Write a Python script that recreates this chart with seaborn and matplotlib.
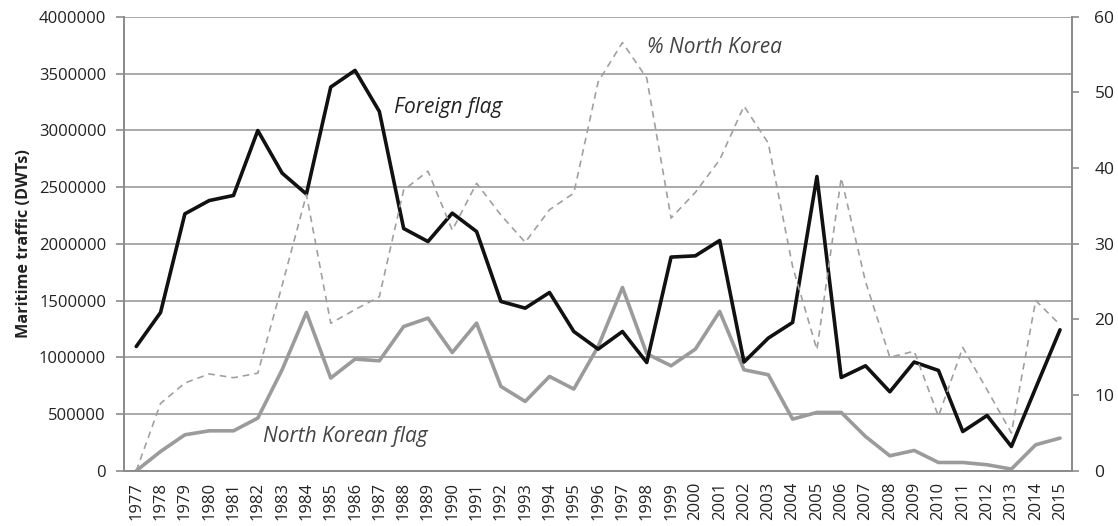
import matplotlib
matplotlib.use("Agg")
import matplotlib.pyplot as plt
import numpy as np
import pandas as pd
import seaborn as sns
from matplotlib.ticker import FixedLocator

# --- data ---
years = list(range(1977, 2016))
foreign_flag = [1095000, 1395000, 2264000, 2381000, 2426000, 2998000, 2623000, 2438000,
                3381000, 3528000, 3166000, 2135000, 2020000, 2270000, 2108000, 1492000,
                1433000, 1571000, 1227000, 1072000, 1227000, 954000, 1883000, 1894000,
                2029000, 958000, 1169000, 1307000, 2593000, 822000, 925000, 696000,
                958000, 884000, 346000, 487000, 214000, 730000, 1242000]
nk_flag = [0, 170000, 317000, 352000, 352000, 464000, 890000, 1395000,
           817000, 984000, 969000, 1271000, 1345000, 1042000, 1301000, 743000,
           611000, 831000, 720000, 1095000, 1615000, 1031000, 925000, 1072000,
           1404000, 890000, 846000, 455000, 514000, 514000, 302000, 132000,
           179000, 73000, 73000, 53000, 15000, 229000, 288000]
pct_nk = [0, 8.9, 11.6, 12.8, 12.3, 12.9, 24.5, 36.5,
          19.5, 21.3, 23.0, 37.1, 39.6, 31.8, 38.0, 33.8,
          30.2, 34.5, 36.7, 51.4, 56.6, 51.9, 33.4, 36.8,
          41.1, 48.2, 43.3, 27.0, 16.0, 38.7, 25.0, 15.0,
          15.8, 7.2, 16.3, 10.7, 5.0, 22.5, 19.3]

df = pd.DataFrame({"year": years, "foreign": foreign_flag,
                   "nk": nk_flag, "pct": pct_nk})

sns.set_style("white")
plt.rcParams["font.family"] = ["Open Sans", "DejaVu Sans"]

GRID = "#a3a3a3"
SPINE = "#8c8c8c"
TXT = "#222222"

fig = plt.figure(figsize=(11.18, 5.26), dpi=100)
ax = fig.add_axes([0.111, 0.105, 0.848, 0.863])
ax2 = ax.twinx()

# left axis: tonnage lines
sns.lineplot(data=df, x="year", y="foreign", ax=ax, color="#111111", lw=2.6, zorder=4)
sns.lineplot(data=df, x="year", y="nk", ax=ax, color="#9b9b9b", lw=2.6, zorder=3)
# right axis: share of North Korean flag
sns.lineplot(data=df, x="year", y="pct", ax=ax2, color="#a0a0a0", lw=1.2,
             linestyle=(0, (4, 3)), zorder=2)

ax.set_xlim(years[0] - 0.5, years[-1] + 0.5)
ax.set_ylim(0, 4000000)
ax2.set_ylim(0, 60)

ax.set_yticks(np.arange(0, 4000001, 500000))
ax.set_yticklabels([f"{v:d}" for v in range(0, 4000001, 500000)], fontsize=12, color=TXT)
ax.yaxis.grid(True, color=GRID, lw=1.3)
ax.set_axisbelow(True)

ax.set_xticks(years)
ax.set_xticklabels([str(y) for y in years], rotation=90, fontsize=12, color=TXT)
ax.xaxis.set_minor_locator(FixedLocator(np.arange(years[0] - 0.5, years[-1] + 1, 1)))
ax.tick_params(axis="x", which="major", length=0, pad=8)
ax.tick_params(axis="x", which="minor", length=6, color=SPINE, width=1.2)
ax.tick_params(axis="y", length=6, color=SPINE, width=1.2, pad=7)

ax2.set_yticks(np.arange(0, 61, 10))
ax2.set_yticklabels([str(v) for v in range(0, 61, 10)], fontsize=12.5, color=TXT)
ax2.tick_params(axis="y", length=5, color=SPINE, width=1.2, pad=11)

ax.set_xlabel("")
ax.set_ylabel("Maritime traffic (DWTs)", fontsize=11.7, fontweight="bold",
              color=TXT, labelpad=5)
ax2.set_ylabel("")

for a in (ax, ax2):
    a.spines["top"].set_visible(False)
    for side in ("left", "right", "bottom"):
        a.spines[side].set_color(SPINE)
        a.spines[side].set_linewidth(1.3)

# in-chart labels
ax.text(1987.6, 3200000, "Foreign flag", fontsize=15, style="italic",
        color="#222222", va="center", ha="left")
ax.text(1998.0, 3730000, "% North Korea", fontsize=15, style="italic",
        color="#444444", va="center", ha="left")
ax.text(1982.2, 300000, "North Korean flag", fontsize=15, style="italic",
        color="#444444", va="center", ha="left")

fig.savefig("out.png", dpi=100)
